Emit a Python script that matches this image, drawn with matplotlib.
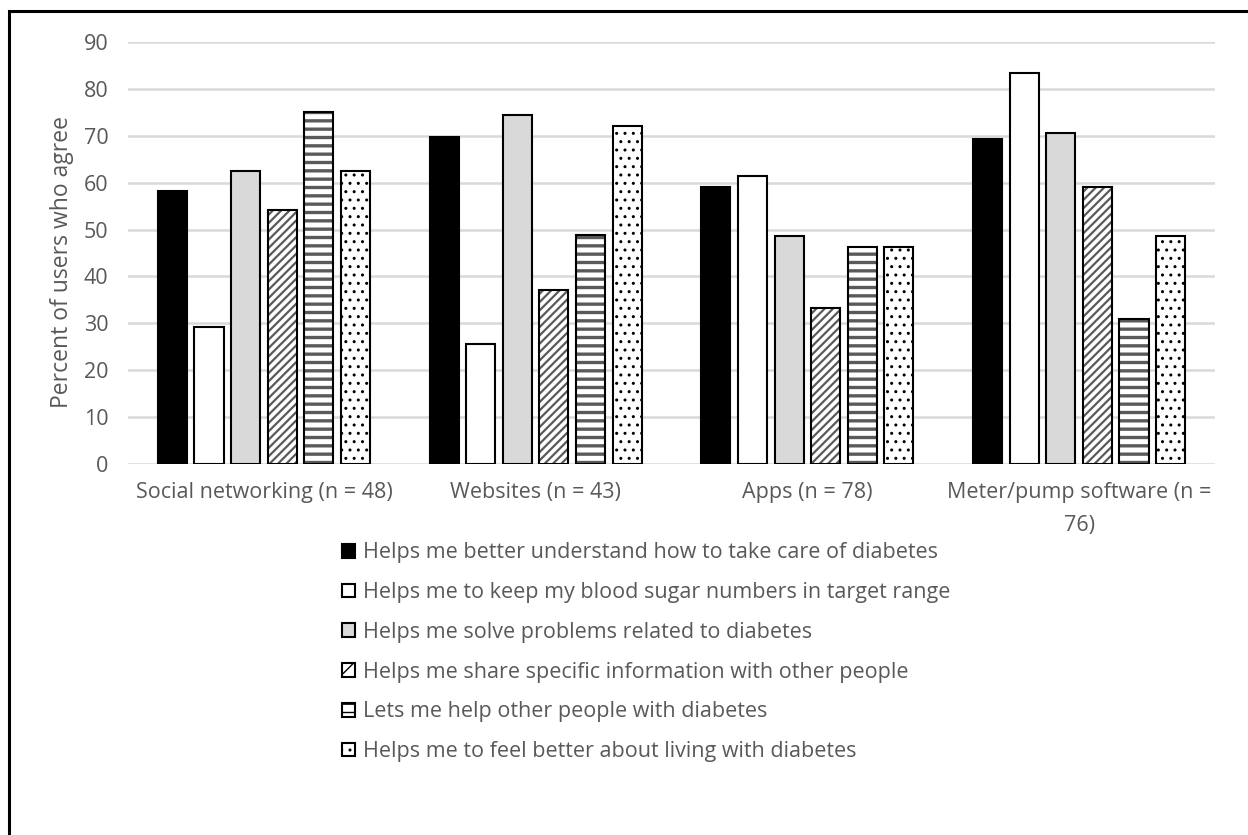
import matplotlib
matplotlib.use("Agg")
import matplotlib.pyplot as plt
import matplotlib.patches as mpatches
import numpy as np

categories = ["Social networking (n = 48)", "Websites (n = 43)", "Apps (n = 78)",
              "Meter/pump software (n =\n76)"]
series_names = [
    "Helps me better understand how to take care of diabetes",
    "Helps me to keep my blood sugar numbers in target range",
    "Helps me solve problems related to diabetes",
    "Helps me share specific information with other people",
    "Lets me help other people with diabetes",
    "Helps me to feel better about living with diabetes",
]
understand = [58.3, 69.8, 59.0, 69.4]
blood_sugar = [29.2, 25.6, 61.5, 83.3]
solve = [62.5, 74.4, 48.7, 70.5]
share = [54.2, 37.2, 33.3, 59.1]
help_others = [75.0, 48.8, 46.2, 30.9]
feel_better = [62.5, 72.1, 46.2, 48.7]
series_values = [understand, blood_sugar, solve, share, help_others, feel_better]
yticks = [0, 10, 20, 30, 40, 50, 60, 70, 80, 90]

# style per series: (facecolor, hatch, hatchcolor, hatch linewidth)
styles = [
    ("black", None, None, None),
    ("white", None, None, None),
    ("#D9D9D9", None, None, None),
    ("white", "////", "#5A5A5A", 1.6),
    ("white", "--", "#5A5A5A", 2.4),
    ("white", "..", "black", 1.0),
]

TXT = "#595959"
FS = 15.5
plt.rcParams['font.family'] = ['Open Sans', 'DejaVu Sans']

W, H = 1248, 835
fig = plt.figure(figsize=(W / 100, H / 100), dpi=100)
ax = fig.add_axes([128 / W, 1 - 464 / H, (1215 - 128) / W, (464 - 42) / H])

x = np.arange(len(categories))
pitch = 0.1347
width = 0.107
offsets = (np.arange(6) - 2.5) * pitch

for i, (vals, (fc, hatch, hc, hlw)) in enumerate(zip(series_values, styles)):
    pos = x + offsets[i]
    if hatch is None:
        ax.bar(pos, vals, width, color=fc, edgecolor="black", linewidth=1.5, zorder=3)
    else:
        with plt.rc_context({'hatch.linewidth': hlw}):
            bars = ax.bar(pos, vals, width, color=fc, edgecolor=hc, hatch=hatch,
                          linewidth=0, zorder=3)
        for b in bars:
            if hasattr(b, "set_hatch_linewidth"):
                b.set_hatch_linewidth(hlw)
        ax.bar(pos, vals, width, fill=False, edgecolor="black", linewidth=1.5, zorder=4)

ax.set_xlim(-0.5, 3.5)
ax.set_ylim(0, 90)
ax.set_yticks(yticks)
ax.set_yticklabels([str(t) for t in yticks])
ax.set_xticks(x)
ax.set_xticklabels(categories, linespacing=1.75)
ax.tick_params(axis='both', length=0, labelsize=FS, colors=TXT)
ax.tick_params(axis='x', pad=13)
ax.tick_params(axis='y', pad=14)
ax.grid(axis='y', color="#D9D9D9", linewidth=1.8, zorder=0)
ax.set_axisbelow(True)
for s in ax.spines.values():
    s.set_visible(False)
ax.set_ylabel("Percent of users who agree", fontsize=16.5, color=TXT)
ax.yaxis.set_label_coords(-0.05, 0.479)

# legend
handles = []
for fc, hatch, hc, hlw in styles:
    if hatch is None:
        handles.append(mpatches.Patch(facecolor=fc, edgecolor="black", linewidth=1.5))
    else:
        handles.append(mpatches.Patch(facecolor=fc, edgecolor="black", hatch=hatch[:2], linewidth=1.5))
leg = fig.legend(handles, series_names, loc="upper left",
                 bbox_to_anchor=(323 / W, 1 - 523 / H), frameon=False,
                 fontsize=FS, labelcolor=TXT, handlelength=0.6, handleheight=0.6,
                 handletextpad=0.35, labelspacing=0.87)

# outer frame
fig.patches.append(mpatches.Rectangle((9 / W, -0.05), 1.2, 1 - 11 / H + 0.05,
                                      transform=fig.transFigure, fill=False,
                                      edgecolor="black", linewidth=2.2))

fig.savefig("out.png", dpi=100)
